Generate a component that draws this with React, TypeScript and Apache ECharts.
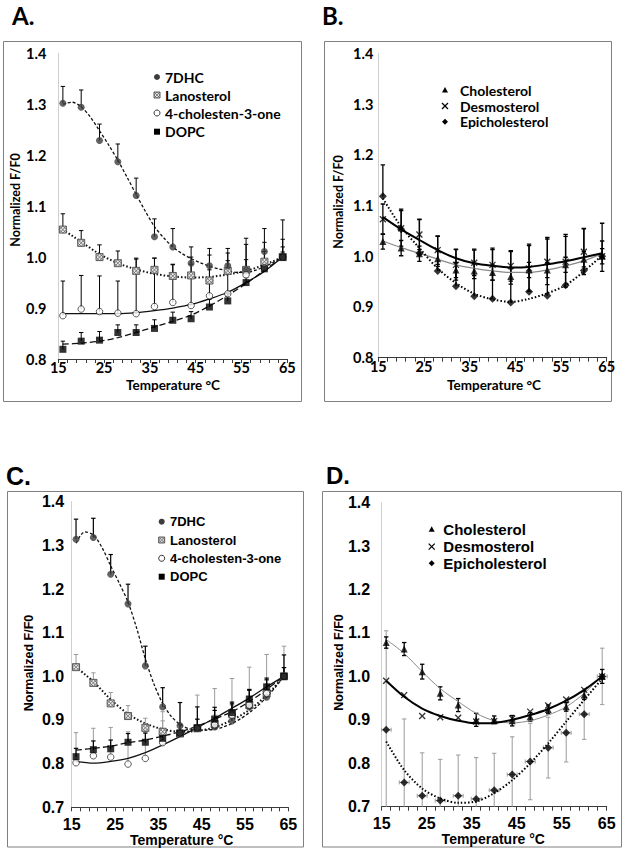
import { useEffect, useRef } from "react";
import * as echarts from "echarts";

// ---------- shared ----------
const temps = [16, 20, 24, 28, 32, 36, 40, 44, 48, 52, 56, 60, 64];
const xTickValues = [15, 17, 19, 21, 23, 25, 27, 29, 31, 33, 35, 37, 39, 41, 43, 45, 47, 49, 51, 53, 55, 57, 59, 61, 63, 65];
const xLabelValues = [15, 25, 35, 45, 55, 65];
const legendA = ["7DHC", "Lanosterol", "4-cholesten-3-one", "DOPC"];
const legendB = ["Cholesterol", "Desmosterol", "Epicholesterol"];
const panelLetters = ["A.", "B.", "C.", "D."];
const xTitle = "Temperature °C";
const yTitle = "Normalized F/F0";

// ---------- panel A ----------
const a7DHC = [1.302, 1.294, 1.229, 1.187, 1.121, 1.04, 1.02, 0.988, 0.983, 0.983, 0.975, 1.011, 1.0];
const a7DHCErr = [0.033, 0.034, 0.032, 0.035, 0.034, 0.035, 0.036, 0.032, 0.034, 0.034, 0.062, 0.045, 0.073];
const aLano = [1.054, 1.028, 1.0, 0.988, 0.973, 0.975, 0.963, 0.964, 0.954, 0.973, 0.975, 0.991, 1.0];
const aLanoErr = [0.031, 0.024, 0.024, 0.024, 0.023, 0.023, 0.022, 0.022, 0.021, 0.02, 0.02, 0.02, 0.02];
const aChol4 = [0.885, 0.898, 0.893, 0.89, 0.889, 0.903, 0.911, 0.905, 0.924, 0.928, 0.965, 0.979, 1.0];
const aChol4Err = [0.068, 0.066, 0.07, 0.063, 0.109, 0.095, 0.075, 0.095, 0.08, 0.08, 0.06, 0.05, 0.035];
const aDOPC = [0.819, 0.835, 0.837, 0.852, 0.852, 0.86, 0.876, 0.879, 0.902, 0.914, 0.95, 0.977, 1.0];
const aDOPCErr = [0.016, 0.017, 0.017, 0.015, 0.015, 0.017, 0.016, 0.014, 0.015, 0.015, 0.01, 0.01, 0.01];
const a7DHCFit = [[16, 1.3], [18, 1.304], [20, 1.295], [22, 1.275], [24, 1.248], [26, 1.22], [28, 1.19], [30, 1.157], [32, 1.123], [34, 1.09], [36, 1.06], [38, 1.038], [40, 1.02], [42, 1.007], [44, 0.997], [46, 0.989], [48, 0.982], [50, 0.977], [52, 0.973], [54, 0.97], [56, 0.97], [58, 0.974], [60, 0.981], [62, 0.99], [64, 1.0]];
const aLanoFit = [[16, 1.054], [20, 1.03], [24, 1.006], [28, 0.988], [32, 0.976], [36, 0.967], [40, 0.962], [44, 0.96], [48, 0.961], [52, 0.966], [56, 0.973], [60, 0.985], [64, 1.0]];
const aChol4Fit = [[16, 0.889], [20, 0.889], [24, 0.889], [28, 0.889], [32, 0.891], [36, 0.895], [40, 0.9], [44, 0.907], [48, 0.918], [52, 0.931], [56, 0.95], [60, 0.972], [64, 1.0]];
const aDOPCFit = [[16, 0.829], [20, 0.831], [24, 0.835], [28, 0.842], [32, 0.852], [36, 0.863], [40, 0.874], [44, 0.886], [48, 0.904], [52, 0.925], [56, 0.948], [60, 0.974], [64, 1.0]];

// ---------- panel B ----------
const bChol = [1.029, 1.016, 1.005, 0.995, 0.973, 0.971, 0.968, 0.96, 0.973, 0.973, 0.983, 0.994, 1.0];
const bCholErr = [0.015, 0.015, 0.015, 0.015, 0.015, 0.015, 0.015, 0.015, 0.015, 0.015, 0.015, 0.015, 0.015];
const bDesmo = [1.073, 1.055, 1.043, 1.012, 0.983, 0.987, 0.983, 0.981, 0.976, 0.989, 0.989, 1.009, 1.0];
const bDesmoErr = [0.03, 0.035, 0.03, 0.028, 0.03, 0.025, 0.03, 0.03, 0.045, 0.045, 0.05, 0.045, 0.03];
const bEpi = [1.118, 1.053, 1.006, 0.971, 0.941, 0.921, 0.916, 0.909, 0.93, 0.922, 0.943, 0.972, 1.0];
const bEpiErr = [0.062, 0.04, 0.066, 0.068, 0.073, 0.093, 0.1, 0.1, 0.094, 0.115, 0.1, 0.083, 0.065];
const bCholFit = [[16, 1.03], [20, 1.017], [24, 1.006], [28, 0.994], [32, 0.983], [36, 0.976], [40, 0.971], [44, 0.968], [48, 0.968], [52, 0.973], [56, 0.981], [60, 0.991], [64, 1.005]];
const bDesmoFit = [[16, 1.077], [20, 1.053], [24, 1.032], [28, 1.012], [32, 0.996], [36, 0.986], [40, 0.981], [44, 0.978], [48, 0.979], [52, 0.984], [56, 0.99], [60, 0.998], [64, 1.006]];
const bEpiFit = [[16, 1.114], [20, 1.058], [24, 1.016], [28, 0.976], [32, 0.947], [36, 0.926], [40, 0.915], [44, 0.91], [48, 0.916], [52, 0.927], [56, 0.943], [60, 0.97], [64, 1.002]];

// ---------- panel C ----------
const c7DHC = [1.314, 1.318, 1.234, 1.166, 1.024, 0.93, 0.887, 0.882, 0.884, 0.898, 0.93, 0.952, 1.0];
const c7DHCErr = [0.046, 0.044, 0.045, 0.045, 0.045, 0.044, 0.053, 0.048, 0.045, 0.043, 0.04, 0.04, 0.049];
const cLano = [1.021, 0.985, 0.938, 0.909, 0.882, 0.873, 0.869, 0.881, 0.891, 0.914, 0.934, 0.961, 1.0];
const cLanoErr = [0.029, 0.023, 0.025, 0.024, 0.022, 0.025, 0.02, 0.02, 0.02, 0.02, 0.02, 0.02, 0.02];
const cChol4 = [0.802, 0.818, 0.815, 0.799, 0.812, 0.848, 0.87, 0.881, 0.889, 0.911, 0.934, 0.961, 1.0];
const cChol4Err = [0.069, 0.063, 0.068, 0.074, 0.06, 0.071, 0.07, 0.076, 0.083, 0.084, 0.087, 0.089, 0.069];
const cDOPC = [0.816, 0.832, 0.834, 0.849, 0.849, 0.858, 0.87, 0.882, 0.902, 0.917, 0.948, 0.976, 1.0];
const cDOPCErr = [0.019, 0.02, 0.02, 0.02, 0.021, 0.02, 0.02, 0.02, 0.02, 0.02, 0.02, 0.02, 0.02];
const c7DHCFit = [[16, 1.305], [18, 1.331], [20, 1.324], [22, 1.295], [24, 1.253], [26, 1.213], [28, 1.17], [30, 1.11], [32, 1.04], [34, 0.982], [36, 0.938], [38, 0.908], [40, 0.89], [42, 0.88], [44, 0.877], [46, 0.877], [48, 0.879], [50, 0.884], [52, 0.892], [54, 0.903], [56, 0.917], [58, 0.933], [60, 0.952], [62, 0.975], [64, 1.0]];
const cLanoFit = [[16, 1.021], [20, 0.988], [24, 0.947], [28, 0.914], [32, 0.892], [36, 0.879], [40, 0.873], [44, 0.875], [48, 0.883], [52, 0.9], [56, 0.923], [60, 0.957], [64, 1.0]];
const cChol4Fit = [[16, 0.805], [20, 0.801], [24, 0.805], [28, 0.812], [32, 0.825], [36, 0.843], [40, 0.862], [44, 0.883], [48, 0.904], [52, 0.927], [56, 0.95], [60, 0.976], [64, 1.0]];
const cDOPCFit = [[16, 0.831], [20, 0.835], [24, 0.84], [28, 0.848], [32, 0.854], [36, 0.863], [40, 0.873], [44, 0.886], [48, 0.902], [52, 0.919], [56, 0.942], [60, 0.97], [64, 1.0]];

// ---------- panel D ----------
const dChol = [1.078, 1.063, 1.011, 0.961, 0.934, 0.9, 0.9, 0.898, 0.907, 0.924, 0.93, 0.957, 1.0];
const dCholErr = [0.013, 0.015, 0.017, 0.015, 0.015, 0.015, 0.009, 0.012, 0.01, 0.01, 0.01, 0.01, 0.016];
const dDesmo = [0.99, 0.957, 0.909, 0.906, 0.905, 0.896, 0.897, 0.903, 0.919, 0.933, 0.947, 0.969, 1.0];
const dEpi = [0.877, 0.756, 0.725, 0.714, 0.725, 0.718, 0.738, 0.774, 0.804, 0.836, 0.87, 0.913, 1.0];
const dEpiErr = [0.228, 0.146, 0.099, 0.095, 0.094, 0.095, 0.085, 0.087, 0.088, 0.07, 0.067, 0.058, 0.065];
const dEpiXErr = [1.1, 1.1, 1.1, 1.1, 1.1, 1.1, 1.1, 1.1, 1.1, 1.1, 1.1, 1.1, 1.1];
const dCholFit = [[16, 1.085], [20, 1.053], [24, 1.011], [28, 0.972], [32, 0.942], [36, 0.915], [40, 0.898], [44, 0.893], [48, 0.898], [52, 0.911], [56, 0.93], [60, 0.961], [64, 1.002]];
const dDesmoFit = [[16, 0.99], [20, 0.953], [24, 0.926], [28, 0.909], [32, 0.898], [36, 0.892], [40, 0.893], [44, 0.9], [48, 0.911], [52, 0.925], [56, 0.944], [60, 0.969], [64, 1.0]];
const dEpiFit = [[16, 0.85], [20, 0.784], [24, 0.742], [28, 0.719], [32, 0.709], [36, 0.712], [40, 0.731], [44, 0.761], [48, 0.8], [52, 0.846], [56, 0.896], [60, 0.946], [64, 0.995]];

// ---------- layout / style ----------
const FONT_AB = "Lato, 'Open Sans', sans-serif";
const FONT_CD = "'Liberation Sans', Arial, sans-serif";

const grids = [
  { left: 58.3, top: 53.3, width: 229, height: 305.7 },
  { left: 378.3, top: 53.3, width: 228.4, height: 304.4 },
  { left: 71.7, top: 501.7, width: 216.6, height: 305.6 },
  { left: 381.7, top: 502.7, width: 225, height: 304 },
];
const panelCfg = [
  { font: FONT_AB, tick: 14.5, xMargin: 1, yMargin: 12, yMin: 0.8 },
  { font: FONT_AB, tick: 14.5, xMargin: 1.5, yMargin: 5, yMin: 0.8 },
  { font: FONT_CD, tick: 16, xMargin: 9, yMargin: 7.5, yMin: 0.7 },
  { font: FONT_CD, tick: 16, xMargin: 9, yMargin: 11.5, yMin: 0.7 },
];

const C_DARK = "#3c3c3c";

function errData(vals: number[], up: number[] | null, dn: number[] | null) {
  return temps.map((t, i) => [t, vals[i], up ? up[i] : 0, dn ? dn[i] : 0]);
}
function pts(vals: number[]) {
  return temps.map((t, i) => [t, vals[i]]);
}

function errSeries(idx: number, data: number[][], color: string, lw = 1, cap = 2.2) {
  return {
    type: "custom",
    xAxisIndex: idx,
    yAxisIndex: idx,
    z: 2,
    clip: true,
    silent: true,
    data,
    renderItem: (_p: any, api: any) => {
      const x = api.value(0), y = api.value(1), up = api.value(2), dn = api.value(3);
      const top = api.coord([x, y + up]);
      const bot = api.coord([x, y - dn]);
      const children: any[] = [
        { type: "line", shape: { x1: top[0], y1: top[1], x2: bot[0], y2: bot[1] }, style: { stroke: color, lineWidth: lw } },
      ];
      if (up > 0) children.push({ type: "line", shape: { x1: top[0] - cap, y1: top[1], x2: top[0] + cap, y2: top[1] }, style: { stroke: color, lineWidth: lw } });
      if (dn > 0) children.push({ type: "line", shape: { x1: bot[0] - cap, y1: bot[1], x2: bot[0] + cap, y2: bot[1] }, style: { stroke: color, lineWidth: lw } });
      return { type: "group", children };
    },
  };
}

function xErrSeries(idx: number, vals: number[], xe: number[], color: string) {
  return {
    type: "custom",
    xAxisIndex: idx,
    yAxisIndex: idx,
    z: 2,
    clip: true,
    silent: true,
    data: temps.map((t, i) => [t, vals[i], xe[i]]),
    renderItem: (_p: any, api: any) => {
      const x = api.value(0), y = api.value(1), e = api.value(2);
      const l = api.coord([x - e, y]);
      const r = api.coord([x + e, y]);
      const st = { stroke: color, lineWidth: 1 };
      return {
        type: "group",
        children: [
          { type: "line", shape: { x1: l[0], y1: l[1], x2: r[0], y2: r[1] }, style: st },
          { type: "line", shape: { x1: l[0], y1: l[1] - 2, x2: l[0], y2: l[1] + 2 }, style: st },
          { type: "line", shape: { x1: r[0], y1: r[1] - 2, x2: r[0], y2: r[1] + 2 }, style: st },
        ],
      };
    },
  };
}

function fitSeries(idx: number, data: number[][], color: string, width: number, type: any) {
  return {
    type: "line",
    xAxisIndex: idx,
    yAxisIndex: idx,
    data,
    smooth: 0.3,
    symbol: "none",
    showSymbol: false,
    silent: true,
    z: 3,
    lineStyle: { color, width, type },
  };
}

function scatterSeries(idx: number, vals: number[], symbol: string, size: number, itemStyle: any) {
  return {
    type: "scatter",
    xAxisIndex: idx,
    yAxisIndex: idx,
    data: pts(vals),
    symbol,
    symbolSize: size,
    itemStyle,
    silent: true,
    z: 5,
  };
}

function hatchChildren(cx: number, cy: number, s: number) {
  const h = s / 2;
  const st = { stroke: "#5a5a5a", lineWidth: 0.7 };
  return [
    { type: "rect", shape: { x: cx - h, y: cy - h, width: s, height: s }, style: { fill: "#e6e6e6", stroke: "#4a4a4a", lineWidth: 0.9 } },
    { type: "line", shape: { x1: cx - h, y1: cy, x2: cx, y2: cy - h }, style: st },
    { type: "line", shape: { x1: cx - h, y1: cy + h, x2: cx + h, y2: cy - h }, style: st },
    { type: "line", shape: { x1: cx, y1: cy + h, x2: cx + h, y2: cy }, style: st },
    { type: "line", shape: { x1: cx - h, y1: cy, x2: cx, y2: cy + h }, style: st },
    { type: "line", shape: { x1: cx - h, y1: cy - h, x2: cx + h, y2: cy + h }, style: st },
    { type: "line", shape: { x1: cx, y1: cy - h, x2: cx + h, y2: cy }, style: st },
  ];
}

function hatchSeries(idx: number, vals: number[], s: number) {
  return {
    type: "custom",
    xAxisIndex: idx,
    yAxisIndex: idx,
    z: 5,
    clip: true,
    silent: true,
    data: pts(vals),
    renderItem: (_p: any, api: any) => {
      const c = api.coord([api.value(0), api.value(1)]);
      return { type: "group", children: hatchChildren(c[0], c[1], s) };
    },
  };
}

const CROSS = "path://M0 0L10 10M10 0L0 10";

// ---------- graphic helpers ----------
function txt(x: number, y: number, text: string, font: string, size: number, align = "left", rotation = 0) {
  return {
    type: "text",
    x,
    y,
    rotation,
    silent: true,
    style: {
      text,
      fontFamily: font,
      fontSize: size,
      fontWeight: "bold",
      fill: "#000",
      align,
      verticalAlign: "middle",
      textAlign: align,
      textVerticalAlign: "middle",
    },
  };
}

function marker(kind: string, cx: number, cy: number, s: number) {
  const h = s / 2;
  switch (kind) {
    case "dot":
      return { type: "circle", shape: { cx, cy, r: h }, style: { fill: C_DARK } };
    case "hatch":
      return { type: "group", children: hatchChildren(cx, cy, s) };
    case "open":
      return { type: "circle", shape: { cx, cy, r: h }, style: { fill: "#fff", stroke: "#000", lineWidth: 0.8 } };
    case "square":
      return { type: "rect", shape: { x: cx - h, y: cy - h, width: s, height: s }, style: { fill: "#000" } };
    case "tri":
      return { type: "polygon", shape: { points: [[cx, cy - h], [cx + h, cy + h * 0.8], [cx - h, cy + h * 0.8]] }, style: { fill: "#000" } };
    case "cross":
      return {
        type: "group",
        children: [
          { type: "line", shape: { x1: cx - h, y1: cy - h, x2: cx + h, y2: cy + h }, style: { stroke: "#000", lineWidth: 1.2 } },
          { type: "line", shape: { x1: cx - h, y1: cy + h, x2: cx + h, y2: cy - h }, style: { stroke: "#000", lineWidth: 1.2 } },
        ],
      };
    default:
      return { type: "polygon", shape: { points: [[cx, cy - h], [cx + h, cy], [cx, cy + h], [cx - h, cy]] }, style: { fill: "#000" } };
  }
}

function legend(names: string[], kinds: string[], mx: number, tx: number, ys: number[], font: string, size: number, ms: number) {
  const out: any[] = [];
  names.forEach((n, i) => {
    out.push(marker(kinds[i], mx, ys[i], ms));
    out.push(txt(tx, ys[i], n, font, size));
  });
  return out;
}

function buildOption() {
  const xAxis = grids.map((_, i) => ({
    type: "value",
    gridIndex: i,
    min: 15,
    max: 65,
    axisLine: { show: true, onZero: false, lineStyle: { color: "#3a3a3a", width: 1 } },
    axisTick: { show: true, customValues: xTickValues, length: 4, lineStyle: { color: "#3a3a3a", width: 1 } },
    axisLabel: {
      customValues: xLabelValues,
      fontFamily: panelCfg[i].font,
      fontWeight: "bold",
      fontSize: panelCfg[i].tick,
      color: "#000",
      margin: panelCfg[i].xMargin,
    },
    splitLine: { show: false },
  }));
  const yAxis = grids.map((_, i) => ({
    type: "value",
    gridIndex: i,
    min: panelCfg[i].yMin,
    max: 1.4,
    interval: 0.1,
    axisLine: { show: true, lineStyle: { color: "#cfcfcf", width: 1 } },
    axisTick: { show: false },
    splitLine: { show: false },
    axisLabel: {
      formatter: (v: number) => v.toFixed(1),
      fontFamily: panelCfg[i].font,
      fontWeight: "bold",
      fontSize: panelCfg[i].tick,
      color: "#000",
      margin: panelCfg[i].yMargin,
    },
  }));

  const series: any[] = [
    // Panel A
    errSeries(0, errData(aDOPC, aDOPCErr, null), "#000"),
    errSeries(0, errData(aChol4, aChol4Err, null), "#000"),
    errSeries(0, errData(aLano, aLanoErr, null), "#000"),
    errSeries(0, errData(a7DHC, a7DHCErr, null), "#000"),
    fitSeries(0, a7DHCFit, "#111", 1.3, [3, 2]),
    fitSeries(0, aLanoFit, "#111", 2, [1.5, 2]),
    fitSeries(0, aChol4Fit, "#111", 1.3, "solid"),
    fitSeries(0, aDOPCFit, "#111", 1.3, [6, 3]),
    scatterSeries(0, a7DHC, "circle", 7, { color: C_DARK }),
    hatchSeries(0, aLano, 7),
    scatterSeries(0, aChol4, "circle", 6.5, { color: "#fff", borderColor: "#000", borderWidth: 0.8 }),
    scatterSeries(0, aDOPC, "rect", 7, { color: "#000" }),
    // Panel B
    errSeries(1, errData(bEpi, bEpiErr, null), "#000", 1.3),
    errSeries(1, errData(bDesmo, bDesmoErr, bDesmoErr), "#000", 1.3),
    errSeries(1, errData(bChol, bCholErr, bCholErr), "#000", 1.3),
    fitSeries(1, bCholFit, "#8a8a8a", 1.3, "solid"),
    fitSeries(1, bDesmoFit, "#000", 2, "solid"),
    fitSeries(1, bEpiFit, "#000", 2, [1.5, 2]),
    scatterSeries(1, bChol, "triangle", 7, { color: "#000" }),
    scatterSeries(1, bDesmo, CROSS, 6, { color: "none", borderColor: "#000", borderWidth: 1.3 }),
    scatterSeries(1, bEpi, "diamond", 8, { color: "#000" }),
    // Panel C
    errSeries(2, errData(cChol4, cChol4Err, null), "#9a9a9a"),
    errSeries(2, errData(cLano, cLanoErr, null), "#9a9a9a"),
    errSeries(2, errData(cDOPC, cDOPCErr, null), "#000", 1.2),
    errSeries(2, errData(c7DHC, c7DHCErr, null), "#000", 1.2),
    fitSeries(2, c7DHCFit, "#111", 1.3, [3, 2]),
    fitSeries(2, cLanoFit, "#111", 2, [1.5, 2]),
    fitSeries(2, cChol4Fit, "#111", 1.3, "solid"),
    fitSeries(2, cDOPCFit, "#111", 1.3, [6, 3]),
    scatterSeries(2, c7DHC, "circle", 7, { color: C_DARK }),
    hatchSeries(2, cLano, 7),
    scatterSeries(2, cChol4, "circle", 6.5, { color: "#fff", borderColor: "#000", borderWidth: 0.8 }),
    scatterSeries(2, cDOPC, "rect", 7, { color: "#000" }),
    // Panel D
    errSeries(3, errData(dEpi, dEpiErr, dEpiErr), "#9a9a9a"),
    xErrSeries(3, dEpi, dEpiXErr, "#9a9a9a"),
    errSeries(3, errData(dChol, dCholErr, dCholErr), "#000", 1.3),
    fitSeries(3, dCholFit, "#8a8a8a", 1, "solid"),
    fitSeries(3, dDesmoFit, "#000", 2, "solid"),
    fitSeries(3, dEpiFit, "#000", 2, [1.5, 2]),
    scatterSeries(3, dChol, "triangle", 7, { color: "#000" }),
    scatterSeries(3, dDesmo, CROSS, 6, { color: "none", borderColor: "#000", borderWidth: 1.3 }),
    scatterSeries(3, dEpi, "diamond", 8, { color: "#000" }),
  ];

  const boxStyle = { fill: "none", stroke: "#808080", lineWidth: 1 };
  const graphic: any[] = [
    { type: "rect", silent: true, shape: { x: 3.5, y: 41.5, width: 298, height: 360 }, style: boxStyle },
    { type: "rect", silent: true, shape: { x: 324.5, y: 41.5, width: 287, height: 360 }, style: boxStyle },
    { type: "rect", silent: true, shape: { x: 7.5, y: 491.5, width: 296, height: 355.5 }, style: boxStyle },
    { type: "rect", silent: true, shape: { x: 322.5, y: 491.5, width: 299, height: 355.5 }, style: boxStyle },
    txt(12, 15, panelLetters[0], FONT_AB, 24),
    txt(322, 15, panelLetters[1], FONT_AB, 24),
    txt(6, 476, panelLetters[2], FONT_CD, 25),
    txt(326, 475, panelLetters[3], FONT_CD, 24),
    txt(173, 385, xTitle, FONT_AB, 13.5, "center"),
    txt(494, 385, xTitle, FONT_AB, 13.5, "center"),
    txt(181.7, 840, xTitle, FONT_CD, 14, "center"),
    txt(493.3, 839.3, xTitle, FONT_CD, 14, "center"),
    txt(15, 200, yTitle, FONT_AB, 12.5, "center", Math.PI / 2),
    txt(338.3, 202, yTitle, FONT_AB, 12.5, "center", Math.PI / 2),
    txt(29, 663, yTitle, FONT_CD, 12.5, "center", Math.PI / 2),
    txt(339, 662.5, yTitle, FONT_CD, 12.5, "center", Math.PI / 2),
    ...legend(legendA, ["dot", "hatch", "open", "square"], 157, 165, [77, 95, 113, 131.7], FONT_AB, 14, 6),
    ...legend(legendB, ["tri", "cross", "diamond"], 445, 460, [90, 106, 121.7], FONT_AB, 14, 6),
    ...legend(legendA, ["dot", "hatch", "open", "square"], 161.7, 170, [521.7, 540, 558.3, 576.7], FONT_CD, 13, 6),
    ...legend(legendB, ["tri", "cross", "diamond"], 431.7, 443.3, [529.3, 546.7, 563.3], FONT_CD, 15, 6),
  ];

  return {
    animation: false,
    backgroundColor: "#fff",
    grid: grids.map((g) => ({ ...g, containLabel: false, outerBoundsMode: "none" })),
    xAxis,
    yAxis,
    series,
    graphic,
  };
}

export default function App() {
  const ref = useRef<HTMLDivElement>(null);
  useEffect(() => {
    if (!ref.current) return;
    const chart = echarts.init(ref.current, null, { renderer: "svg" });
    chart.setOption(buildOption() as any);
    return () => chart.dispose();
  }, []);
  return <div ref={ref} style={{ position: "absolute", left: 0, top: 0, width: 625, height: 852, background: "#fff" }} />;
}
